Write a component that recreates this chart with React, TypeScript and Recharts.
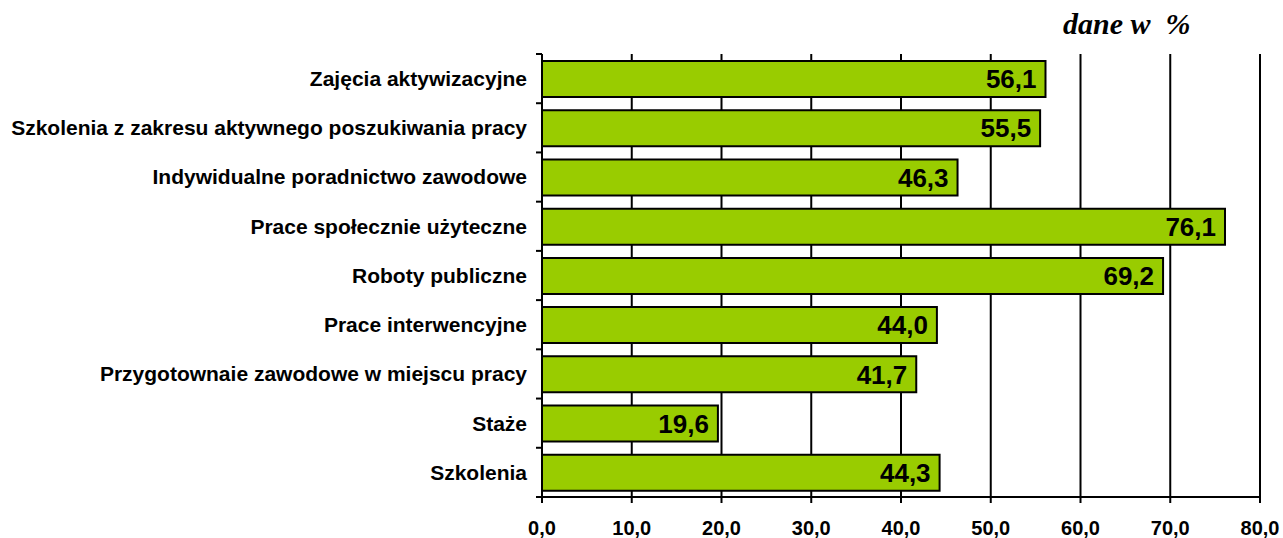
import { BarChart, Bar, XAxis, YAxis, CartesianGrid, LabelList } from "recharts";

const categories = [
  "Zajęcia aktywizacyjne",
  "Szkolenia z zakresu aktywnego poszukiwania pracy",
  "Indywidualne poradnictwo zawodowe",
  "Prace społecznie użyteczne",
  "Roboty publiczne",
  "Prace interwencyjne",
  "Przygotownaie zawodowe w miejscu pracy",
  "Staże",
  "Szkolenia",
];
const values = [56.1, 55.5, 46.3, 76.1, 69.2, 44.0, 41.7, 19.6, 44.3];
const xTicks = [0, 10, 20, 30, 40, 50, 60, 70, 80];

const data = categories.map((name, i) => ({ name, value: values[i] }));

const fmt = (v: number) => v.toFixed(1).replace(".", ",");
const FONT = "'Liberation Sans', Arial, sans-serif";
const BAND = 443 / categories.length;

function CategoryTick(props: any) {
  const { x, y, payload, index } = props;
  const axisX = x + 15;
  return (
    <g>
      <text x={x} y={y} dy="0.35em" textAnchor="end" fontFamily={FONT} fontWeight="bold" fontSize={21} fill="#000">
        {payload.value}
      </text>
      <line x1={axisX - 6} x2={axisX} y1={y - BAND / 2} y2={y - BAND / 2} stroke="#000" strokeWidth={2} />
      {index === categories.length - 1 && (
        <line x1={axisX - 6} x2={axisX} y1={y + BAND / 2} y2={y + BAND / 2} stroke="#000" strokeWidth={2} />
      )}
    </g>
  );
}

export default function App() {
  return (
    <div style={{ position: "absolute", left: 0, top: 0, width: 1283, height: 538, background: "#fff" }}>
      <div
        style={{
          position: "absolute",
          left: 1063,
          top: 5,
          fontFamily: "'Liberation Serif', 'Times New Roman', serif",
          fontStyle: "italic",
          fontWeight: "bold",
          fontSize: 30,
          whiteSpace: "pre",
          lineHeight: "38px",
        }}
      >
        dane w  %
      </div>
      <BarChart
        width={1283}
        height={538}
        data={data}
        layout="vertical"
        margin={{ top: 54, right: 23, bottom: 0, left: 0 }}
        barSize={36}
      >
        <CartesianGrid horizontal={false} stroke="#000" strokeWidth={2} />
        <XAxis
          type="number"
          domain={[0, 80]}
          ticks={xTicks}
          tickFormatter={fmt}
          height={41}
          axisLine={{ stroke: "#000", strokeWidth: 2 }}
          tickLine={{ stroke: "#000", strokeWidth: 2 }}
          tickSize={6}
          tickMargin={18}
          tick={{ fontFamily: FONT, fontWeight: "bold", fontSize: 20, fill: "#000" }}
          interval={0}
        />
        <YAxis
          type="category"
          dataKey="name"
          width={542}
          axisLine={{ stroke: "#000", strokeWidth: 2 }}
          tickLine={false}
          tickSize={0}
          tickMargin={15}
          tick={<CategoryTick />}
          interval={0}
        />
        <Bar dataKey="value" fill="#99CC00" stroke="#000" strokeWidth={2} isAnimationActive={false}>
          <LabelList
            dataKey="value"
            position="insideRight"
            offset={9}
            formatter={(v: any) => fmt(Number(v))}
            style={{ fontFamily: FONT, fontWeight: "bold", fontSize: 26, fill: "#000" }}
          />
        </Bar>
      </BarChart>
    </div>
  );
}
